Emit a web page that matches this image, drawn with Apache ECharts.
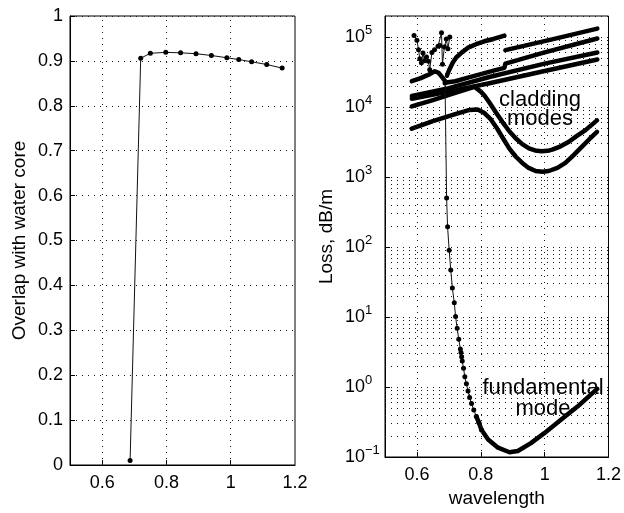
<!DOCTYPE html>
<html>
<head>
<meta charset="utf-8">
<script src="https://cdn.jsdelivr.net/npm/echarts@6/dist/echarts.min.js"></script>
<style>
html,body{margin:0;padding:0;background:#fff;}
#chart{width:624px;height:513px;}
</style>
</head>
<body>
<div id="chart"></div>
<script>
// ---------- data ----------
// left panel: overlap with water core
const overlapX = [0.687, 0.72, 0.75, 0.798, 0.844, 0.892, 0.94, 0.988, 1.025, 1.065, 1.112, 1.16];
const overlapY = [0.01, 0.906, 0.917, 0.919, 0.918, 0.916, 0.912, 0.907, 0.903, 0.898, 0.892, 0.884];

// right panel: loss (dB/m)
const noisyX = [0.591, 0.600, 0.605, 0.609, 0.614, 0.619, 0.624, 0.630, 0.636, 0.640, 0.647, 0.655, 0.666, 0.672, 0.677, 0.680, 0.686, 0.692, 0.697, 0.703];
const noisyY = [105000, 90000, 66000, 49000, 43000, 59000, 46000, 52000, 45000, 34000, 60000, 66000, 74000, 76000, 115000, 41000, 72000, 94000, 68000, 100000];

const fundSteepX = [0.688, 0.693, 0.696, 0.701, 0.706, 0.711, 0.717, 0.721, 0.726, 0.731, 0.736, 0.738, 0.740, 0.742, 0.746, 0.750, 0.755, 0.760, 0.765, 0.771, 0.778, 0.786, 0.794, 0.802];
const fundSteepY = [22000, 500, 195, 90, 47, 26, 16, 10.2, 6.9, 4.8, 3.5, 3.1, 2.7, 2.35, 1.85, 1.40, 1.11, 0.88, 0.71, 0.58, 0.47, 0.38, 0.31, 0.245];

const fundTailX = [0.786, 0.794, 0.802, 0.823, 0.854, 0.89, 0.916, 0.957, 0.999, 1.051, 1.103, 1.154, 1.165];
const fundTailY = [0.38, 0.31, 0.245, 0.178, 0.136, 0.117, 0.122, 0.158, 0.219, 0.34, 0.525, 0.85, 0.94];

const modeAX = [0.694, 0.700, 0.712, 0.723, 0.740, 0.759, 0.785, 0.811, 0.840, 0.874];
const modeAY = [28000, 33000, 43000, 51000, 60000, 70000, 79000, 87000, 94000, 105000];

const mode1X = [0.877, 1.02, 1.165];
const mode1Y = [65000, 92000, 132000];

const mode2X = [0.584, 0.610, 0.635, 0.656, 0.668, 0.680, 0.692, 0.720, 0.760, 0.800, 0.840, 0.874, 0.877, 1.0, 1.165];
const mode2Y = [23400, 25700, 28800, 32400, 30900, 26300, 22400, 23400, 26300, 29500, 33100, 36300, 41700, 60300, 95500];

const mode3X = [0.584, 0.70, 0.827, 1.0, 1.165];
const mode3Y = [14450, 18620, 26920, 41690, 60260];

const mode4X = [0.584, 0.70, 0.827, 1.0, 1.165];
const mode4Y = [13180, 16600, 21880, 32730, 47860];

const dipUpperX = [0.584, 0.65, 0.72, 0.76, 0.78, 0.80, 0.812, 0.827, 0.848, 0.868, 0.89, 0.91, 0.93, 0.951, 0.97, 0.99, 1.01, 1.024, 1.05, 1.076, 1.10, 1.128, 1.164];
const dipUpperY = [10200, 12600, 15900, 18200, 19500, 16600, 14500, 11600, 8300, 6100, 4470, 3550, 2950, 2570, 2400, 2340, 2370, 2460, 2750, 3200, 3850, 4680, 6460];

const dipLowerX = [0.584, 0.65, 0.72, 0.765, 0.79, 0.81, 0.83, 0.848, 0.87, 0.889, 0.91, 0.93, 0.95, 0.972, 0.993, 1.013, 1.04, 1.065, 1.09, 1.117, 1.14, 1.164];
const dipLowerY = [4900, 6300, 7900, 9100, 9200, 8300, 6800, 5200, 3550, 2570, 1950, 1590, 1350, 1220, 1190, 1220, 1350, 1590, 2040, 2720, 3470, 4420];

// ticks / grid positions
const xTickLabels = [0.6, 0.8, 1, 1.2];
const xGridValues = [0.6, 0.8, 1.0];
const logMantissas = [2, 3, 4, 5, 6, 7, 8, 9];
const logDecades = [0.1, 1, 10, 100, 1000, 10000];

// ---------- build ----------
const FONT = '"Liberation Sans", Arial, Helvetica, sans-serif';
const zip = (xs, ys) => xs.map((x, i) => [x, ys[i]]);
const dotted = { color: '#1a1a1a', width: 1, type: [1, 5] };

const minorLog = [];
logDecades.forEach(d => logMantissas.forEach(m => minorLog.push({ yAxis: +(d * m).toPrecision(3) })));

function thick(xs, ys) {
  return {
    type: 'line', xAxisIndex: 1, yAxisIndex: 1, data: zip(xs, ys),
    symbol: 'none', lineStyle: { color: '#000', width: 4.5, cap: 'round', join: 'round' }, z: 3, silent: true
  };
}
function dotsLine(xs, ys, idx) {
  return {
    type: 'line', xAxisIndex: idx, yAxisIndex: idx, data: zip(xs, ys),
    symbol: 'circle', symbolSize: 5,
    lineStyle: { color: '#111', width: 1 }, itemStyle: { color: '#000' }, z: 4, silent: true
  };
}

const xAxisCommon = {
  type: 'value', min: 0.5, max: 1.2, interval: 0.1,
  axisLine: { show: true, lineStyle: { color: '#000', width: 1 } },
  axisTick: { show: true, inside: true, length: 5, customValues: xGridValues, lineStyle: { color: '#000' } },
  axisLabel: { customValues: xTickLabels, fontSize: 18, fontFamily: FONT, color: '#000', margin: 9 },
  splitLine: { show: false }
};

const option = {
  animation: false,
  backgroundColor: '#fff',
  grid: [
    { left: 70, top: 16, width: 225, height: 449, show: true, borderColor: '#000', borderWidth: 1 },
    { left: 385, top: 16, width: 225, height: 449, show: true, borderColor: '#000', borderWidth: 1 }
  ],
  xAxis: [
    Object.assign({}, xAxisCommon, { gridIndex: 0 }),
    Object.assign({}, xAxisCommon, {
      gridIndex: 1, name: 'wavelength', nameLocation: 'middle', nameGap: 32,
      nameTextStyle: { fontSize: 19, fontFamily: FONT, color: '#000' }
    })
  ],
  yAxis: [
    {
      gridIndex: 0, type: 'value', min: 0, max: 1, interval: 0.1,
      name: 'Overlap with water core', nameLocation: 'middle', nameGap: 41,
      nameTextStyle: { fontSize: 19, fontFamily: FONT, color: '#000' },
      axisLine: { show: true, lineStyle: { color: '#000' } },
      axisTick: { show: true, inside: true, length: 5, lineStyle: { color: '#000' } },
      axisLabel: { fontSize: 18, fontFamily: FONT, color: '#000', margin: 7 },
      splitLine: { show: true, lineStyle: dotted }
    },
    {
      gridIndex: 1, type: 'log', logBase: 10, min: 0.1, max: 200000, splitNumber: 6,
      name: 'Loss, dB/m', nameLocation: 'middle', nameGap: 49,
      nameTextStyle: { fontSize: 19, fontFamily: FONT, color: '#000' },
      axisLine: { show: true, lineStyle: { color: '#000' } },
      axisTick: { show: true, inside: true, length: 5, lineStyle: { color: '#000' } },
      axisLabel: {
        showMaxLabel: false, align: 'left', margin: 40,
        formatter: function (v) {
          const e = Math.round(Math.log10(v));
          return '{b|10}{s|' + (e < 0 ? '\u2212' + (-e) : e) + '}';
        },
        rich: {
          b: { fontSize: 18, lineHeight: 26, fontFamily: FONT, color: '#000' },
          s: { fontSize: 13, lineHeight: 12, verticalAlign: 'top', fontFamily: FONT, color: '#000' }
        }
      },
      splitLine: { show: true, lineStyle: dotted }
    }
  ],
  series: [
    // gridline helpers
    {
      type: 'line', xAxisIndex: 0, yAxisIndex: 0, data: [], z: 1, silent: true,
      markLine: { silent: true, symbol: 'none', label: { show: false }, lineStyle: dotted,
        data: xGridValues.map(v => ({ xAxis: v })) }
    },
    {
      type: 'line', xAxisIndex: 1, yAxisIndex: 1, data: [], z: 1, silent: true,
      markLine: { silent: true, symbol: 'none', label: { show: false }, lineStyle: dotted,
        data: xGridValues.map(v => ({ xAxis: v })).concat(minorLog) }
    },
    dotsLine(overlapX, overlapY, 0),
    thick(modeAX, modeAY),
    thick(mode1X, mode1Y),
    thick(mode2X, mode2Y),
    thick(mode3X, mode3Y),
    thick(mode4X, mode4Y),
    thick(dipUpperX, dipUpperY),
    thick(dipLowerX, dipLowerY),
    thick(fundTailX, fundTailY),
    dotsLine(noisyX, noisyY, 1),
    dotsLine(fundSteepX, fundSteepY, 1)
  ],
  graphic: [
    { type: 'text', x: 540, y: 109.5, z: 10,
      style: { text: 'cladding\nmodes', fontSize: 22, fontFamily: FONT, fill: '#000', align: 'center', verticalAlign: 'middle', lineHeight: 19 } },
    { type: 'text', x: 543, y: 398.7, z: 10,
      style: { text: 'fundamental\nmode', fontSize: 22, fontFamily: FONT, fill: '#000', align: 'center', verticalAlign: 'middle', lineHeight: 21 } }
  ]
};

const chart = echarts.init(document.getElementById('chart'), null, { renderer: 'canvas' });
chart.setOption(option);
</script>
</body>
</html>
